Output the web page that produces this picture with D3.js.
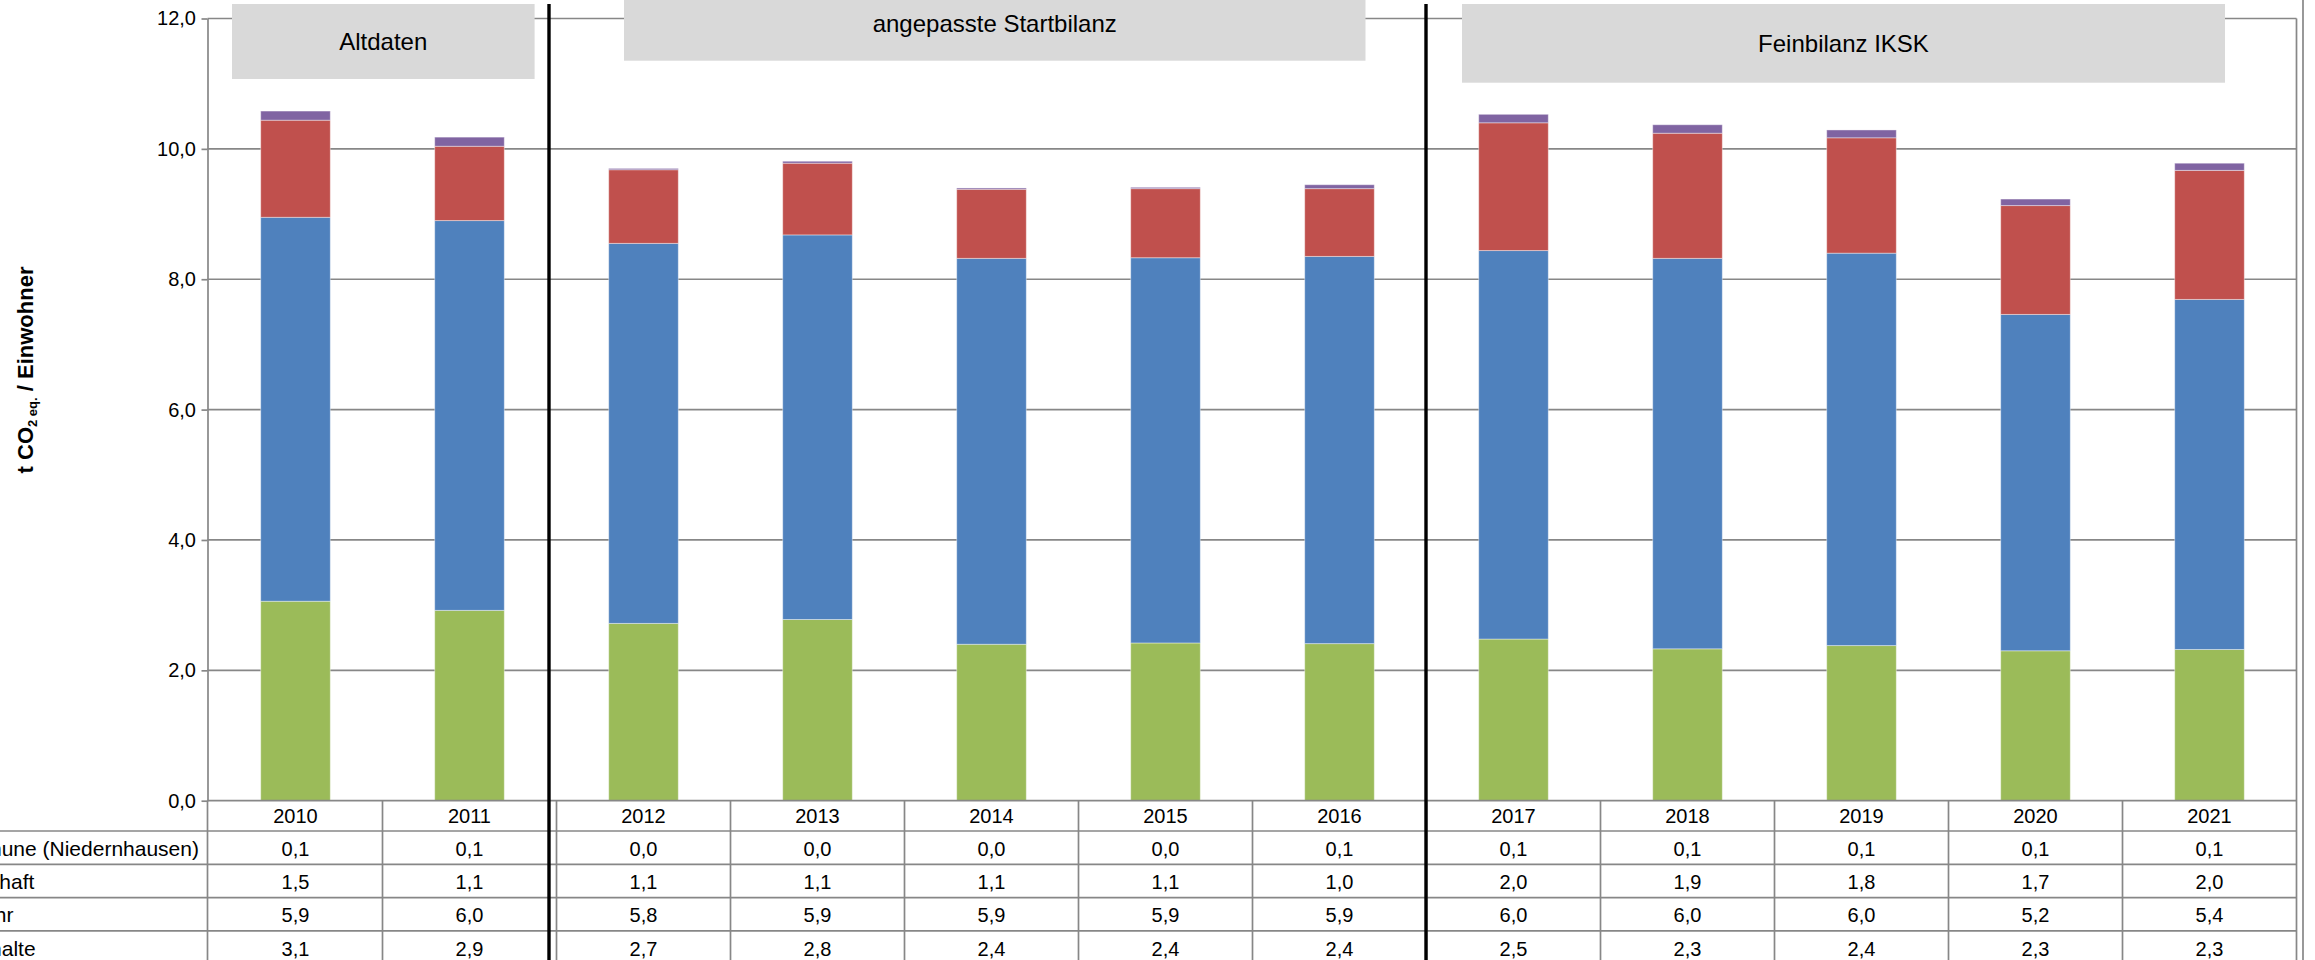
<!DOCTYPE html>
<html>
<head>
<meta charset="utf-8">
<title>CO2-Bilanz pro Einwohner</title>
<script src="https://cdn.jsdelivr.net/npm/d3@7"></script>
<style>
  html, body { margin: 0; padding: 0; background: #fff; }
  svg { display: block; font-family: "Liberation Sans", Arial, Helvetica, sans-serif; }
</style>
</head>
<body>
<svg id="chart" width="2315" height="960"></svg>
<script>
// ---- data: t CO2 eq. per inhabitant ----
const years = ["2010", "2011", "2012", "2013", "2014", "2015", "2016", "2017", "2018", "2019", "2020", "2021"];
const haushalte  = [3.06, 2.92, 2.72, 2.78, 2.40, 2.42, 2.41, 2.48, 2.33, 2.38, 2.30, 2.32];
const verkehr    = [5.89, 5.98, 5.83, 5.90, 5.92, 5.91, 5.94, 5.96, 5.99, 6.02, 5.16, 5.37];
const wirtschaft = [1.49, 1.14, 1.13, 1.10, 1.06, 1.06, 1.04, 1.96, 1.92, 1.77, 1.67, 1.98];
const kommune    = [0.14, 0.14, 0.02, 0.03, 0.02, 0.02, 0.06, 0.13, 0.13, 0.12, 0.10, 0.11];

const seriesKeys   = ["haushalte", "verkehr", "wirtschaft", "kommune"];
const seriesLabels = ["Haushalte", "Verkehr", "Wirtschaft", "Kommune (Niedernhausen)"];
const yTickValues  = [0, 2, 4, 6, 8, 10, 12];
const periodNames  = ["Altdaten", "angepasste Startbilanz", "Feinbilanz IKSK"];
const periodBreaks = ["2012", "2017"];

// ---- formatting (German decimal comma) ----
const de = d3.formatLocale({ decimal: ",", thousands: ".", grouping: [3], currency: ["", " €"] });
const fmt = de.format(".1f");

// ---- layout ----
const plotLeft = 208.5, plotRight = 2296.5, plotTop = 18.5, plotBottom = 800.7;
const yearRowH = 30.3, dataRowH = 33.3;
const gridColor = "#878787";
const colors = { haushalte: "#9bbb59", verkehr: "#4f81bd", wirtschaft: "#c0504d", kommune: "#8064a2" };

const x = d3.scaleBand().domain(years).range([plotLeft, plotRight]);
const y = d3.scaleLinear().domain([0, 12]).range([plotBottom, plotTop]);
const barW = x.bandwidth() * 0.4;

const rows = years.map((yr, i) => ({
  year: yr,
  haushalte: haushalte[i],
  verkehr: verkehr[i],
  wirtschaft: wirtschaft[i],
  kommune: kommune[i]
}));
const stacked = d3.stack().keys(seriesKeys)(rows);

const svg = d3.select("#chart");

// horizontal gridlines
svg.append("g")
  .selectAll("line")
  .data(yTickValues.filter(v => v > 0))
  .join("line")
  .attr("x1", plotLeft - 1).attr("x2", plotRight)
  .attr("y1", d => y(d)).attr("y2", d => y(d))
  .attr("stroke", gridColor).attr("stroke-width", 1.7);

// stacked bars
svg.append("g")
  .selectAll("g")
  .data(stacked)
  .join("g")
  .attr("fill", d => colors[d.key])
  .selectAll("rect")
  .data(d => d)
  .join("rect")
  .attr("x", d => x(d.data.year) + (x.bandwidth() - barW) / 2)
  .attr("width", barW)
  .attr("y", d => y(d[1]))
  .attr("height", d => Math.max(0, y(d[0]) - y(d[1])))
  .attr("stroke", "rgba(255,255,255,0.4)")
  .attr("stroke-width", 1);

// y axis
const yAxis = d3.axisLeft(y)
  .tickValues(yTickValues)
  .tickFormat(fmt)
  .tickSize(6)
  .tickSizeOuter(0)
  .tickPadding(5.5);

const axisG = svg.append("g")
  .attr("transform", `translate(${plotLeft - 1},0)`)
  .call(yAxis);
axisG.attr("font-family", null).attr("font-size", null);
axisG.select(".domain").attr("stroke", gridColor).attr("stroke-width", 1.7);
axisG.selectAll(".tick line").attr("stroke", gridColor).attr("stroke-width", 1.7);
axisG.selectAll(".tick text").attr("fill", "#000").style("font-size", "20px");

// axis title
const title = svg.append("text")
  .attr("transform", "translate(33,370) rotate(-90)")
  .attr("text-anchor", "middle")
  .attr("font-weight", "bold")
  .attr("fill", "#000")
  .style("font-size", "22px");
title.append("tspan").text("t CO");
title.append("tspan").attr("dy", 4).style("font-size", "13px").text("2");
title.append("tspan").style("font-size", "13px").text(" eq.");
title.append("tspan").attr("dy", -4).text(" / Einwohner");

// ---- data table below the plot ----
const table = svg.append("g");
const tableBottom = 960;

// left axis line continues through the table
table.append("line")
  .attr("x1", plotLeft - 1).attr("x2", plotLeft - 1)
  .attr("y1", plotBottom).attr("y2", tableBottom)
  .attr("stroke", gridColor).attr("stroke-width", 1.7);

// baseline (0) of the plot
table.append("line")
  .attr("x1", plotLeft - 1).attr("x2", plotRight)
  .attr("y1", plotBottom).attr("y2", plotBottom)
  .attr("stroke", gridColor).attr("stroke-width", 1.7);

// row separators
const rowOrder = ["kommune", "wirtschaft", "verkehr", "haushalte"];
const rowTop = i => plotBottom + yearRowH + i * dataRowH;
table.selectAll("line.rowsep")
  .data(d3.range(rowOrder.length + 1))
  .join("line")
  .attr("class", "rowsep")
  .attr("x1", -20).attr("x2", plotRight)
  .attr("y1", i => rowTop(i)).attr("y2", i => rowTop(i))
  .attr("stroke", gridColor).attr("stroke-width", 1.7);

// column separators
table.selectAll("line.colsep")
  .data(years.slice(1))
  .join("line")
  .attr("class", "colsep")
  .attr("x1", d => x(d)).attr("x2", d => x(d))
  .attr("y1", plotBottom).attr("y2", tableBottom)
  .attr("stroke", gridColor).attr("stroke-width", 1.7);

// right border of plot and table, plus the outer frame line
table.append("line")
  .attr("x1", plotRight).attr("x2", plotRight)
  .attr("y1", plotTop).attr("y2", tableBottom)
  .attr("stroke", gridColor).attr("stroke-width", 1.7);
table.append("line")
  .attr("x1", plotRight + 6.5).attr("x2", plotRight + 6.5)
  .attr("y1", 0).attr("y2", tableBottom)
  .attr("stroke", gridColor).attr("stroke-width", 1.7);

// year header cells
table.selectAll("text.year")
  .data(years)
  .join("text")
  .attr("class", "year")
  .attr("x", d => x(d) + x.bandwidth() / 2)
  .attr("y", plotBottom + yearRowH / 2 + 7.5)
  .attr("text-anchor", "middle")
  .attr("fill", "#000")
  .style("font-size", "20px")
  .text(d => d);

// row labels
table.selectAll("text.rowlabel")
  .data(rowOrder)
  .join("text")
  .attr("class", "rowlabel")
  .attr("x", -59)
  .attr("y", (d, i) => rowTop(i) + dataRowH / 2 + 8)
  .attr("fill", "#000")
  .style("font-size", "21px")
  .text(d => seriesLabels[seriesKeys.indexOf(d)]);

// value cells
rowOrder.forEach((key, ri) => {
  table.selectAll(`text.val-${key}`)
    .data(rows)
    .join("text")
    .attr("class", `val-${key}`)
    .attr("x", d => x(d.year) + x.bandwidth() / 2)
    .attr("y", rowTop(ri) + dataRowH / 2 + 8)
    .attr("text-anchor", "middle")
    .attr("fill", "#000")
    .style("font-size", "20px")
    .text(d => fmt(d[key]));
});

// ---- period labels ----
const periodBoxes = [
  { x0: 232,  x1: 534.6,  y0: 4,   y1: 79 },
  { x0: 624,  x1: 1365.5, y0: -14, y1: 60.7 },
  { x0: 1462, x1: 2225,   y0: 4,   y1: 82.7 }
];
const periods = svg.append("g")
  .selectAll("g")
  .data(periodNames)
  .join("g");
periods.append("rect")
  .attr("x", (d, i) => periodBoxes[i].x0)
  .attr("y", (d, i) => periodBoxes[i].y0)
  .attr("width", (d, i) => periodBoxes[i].x1 - periodBoxes[i].x0)
  .attr("height", (d, i) => periodBoxes[i].y1 - periodBoxes[i].y0)
  .attr("fill", "#d9d9d9");
periods.append("text")
  .attr("x", (d, i) => (periodBoxes[i].x0 + periodBoxes[i].x1) / 2)
  .attr("y", (d, i) => (periodBoxes[i].y0 + periodBoxes[i].y1) / 2 + 8.4)
  .attr("text-anchor", "middle")
  .attr("fill", "#000")
  .style("font-size", "24px")
  .text(d => d);

// ---- period separators ----
const breakOffsets = [-7.5, -0.5];
svg.append("g")
  .selectAll("line")
  .data(periodBreaks)
  .join("line")
  .attr("x1", (d, i) => x(d) + breakOffsets[i])
  .attr("x2", (d, i) => x(d) + breakOffsets[i])
  .attr("y1", 4).attr("y2", tableBottom)
  .attr("stroke", "#000").attr("stroke-width", 3.4);
</script>
</body>
</html>
